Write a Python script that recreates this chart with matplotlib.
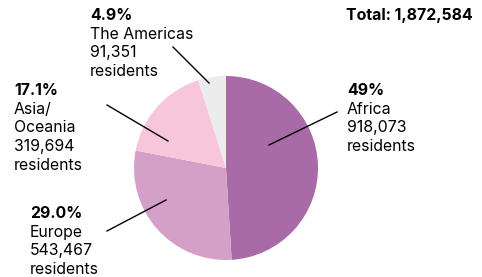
import matplotlib
matplotlib.use("Agg")
import matplotlib.pyplot as plt

regions = ["Africa", "Europe", "Asia/\nOceania", "The Americas"]
residents = [918073, 543467, 319694, 91351]
pct_labels = ["49%", "29.0%", "17.1%", "4.9%"]
res_labels = ["918,073", "543,467", "319,694", "91,351"]
total_label = "Total: 1,872,584"
colors = ["#a96aa8", "#d5a0c8", "#f7c6da", "#ececec"]

plt.rcParams['font.family'] = ['Inter', 'DejaVu Sans']

W, H = 482, 277
fig = plt.figure(figsize=(W / 100, H / 100), dpi=100)

cx, cy, r = 226, 168, 92
pie_ax = fig.add_axes([(cx - r) / W, (H - cy - r) / H, 2 * r / W, 2 * r / H])
pie_ax.pie(residents, colors=colors, startangle=90, counterclock=False,
           radius=1, wedgeprops=dict(linewidth=0))
pie_ax.set_xlim(-1, 1)
pie_ax.set_ylim(-1, 1)
pie_ax.set_aspect("auto")
pie_ax.axis("off")

ov = fig.add_axes([0, 0, 1, 1])
ov.set_xlim(0, W)
ov.set_ylim(H, 0)
ov.axis("off")
ov.patch.set_alpha(0)

fs = 11.4
# baseline of first (bold) line for each label block
label_pos = {
    "Africa": (347, 95),
    "Europe": (30, 218),
    "Asia/\nOceania": (14, 95),
    "The Americas": (90, 20),
}
leaders = {
    "Africa": [(337, 112), (269, 145)],
    "Europe": [(107, 231), (166, 200)],
    "Asia/\nOceania": [(107, 105), (168, 141)],
    "The Americas": [(173, 47), (209, 83)],
}
lh = 18.7
for reg, p, rl in zip(regions, pct_labels, res_labels):
    x, y = label_pos[reg]
    ov.text(x, y, p, fontsize=fs, fontweight="bold", va="baseline", ha="left")
    lines = reg.split("\n") + [rl, "residents"]
    for i, ln in enumerate(lines):
        ov.text(x, y + lh * (i + 1), ln, fontsize=fs, va="baseline", ha="left")
    (x0, y0), (x1, y1) = leaders[reg]
    ov.plot([x0, x1], [y0, y1], color="black", lw=1)

ov.text(473, 20, total_label, fontsize=fs, fontweight="bold", va="baseline", ha="right")

fig.savefig("out.png", dpi=100)
